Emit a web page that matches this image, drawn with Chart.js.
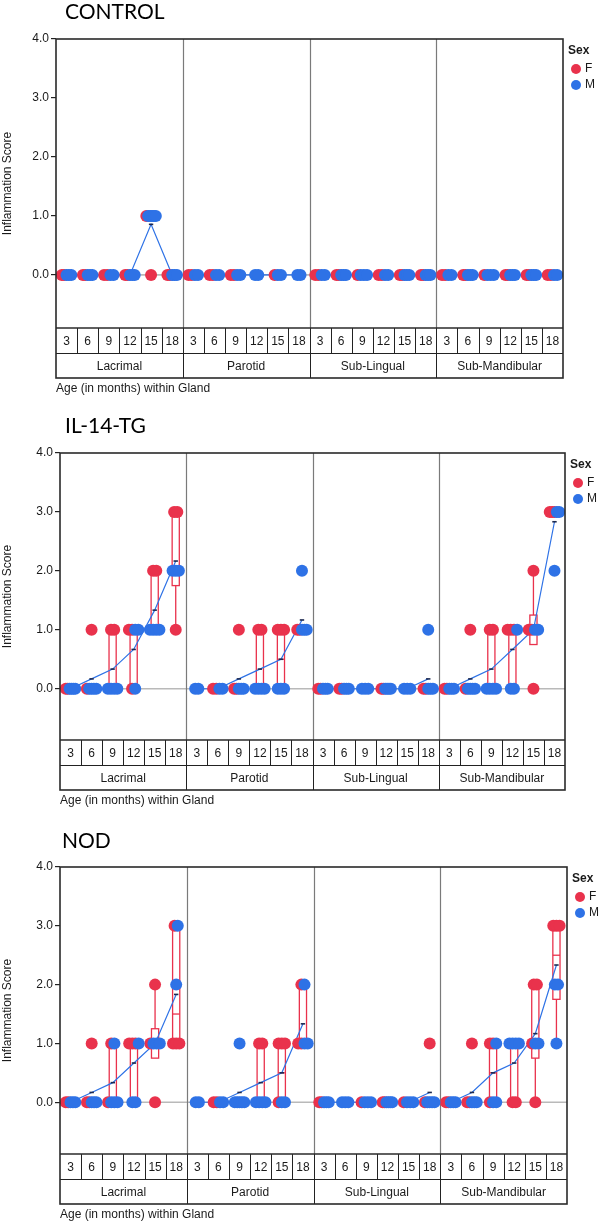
<!DOCTYPE html>
<html><head><meta charset="utf-8">
<script src="https://cdn.jsdelivr.net/npm/chart.js@4"></script>
<style>
html,body{margin:0;padding:0;background:#fff}
body{width:600px;height:1222px;position:relative;overflow:hidden}
canvas{position:absolute;left:0}
</style></head><body>
<canvas id="c1" width="600" height="400" style="top:0px"></canvas>
<canvas id="c2" width="600" height="410" style="top:400px"></canvas>
<canvas id="c3" width="600" height="412" style="top:810px"></canvas>
<script>
// ---------- categories / ticks ----------
const glands = ['Lacrimal','Parotid','Sub-Lingual','Sub-Mandibular'];
const ages = ['3','6','9','12','15','18'];
const yTickValues = [0,1,2,3,4];
const sexLabels = ['F','M'];
const panelTitles = ['CONTROL','IL-14-TG','NOD'];

// ---------- inflammation scores per cell (gland x age), by sex ----------
const controlF = [
 [0,0],[0,0],[0,0],[0,0],[1,0],[0,0],
 [0,0],[0,0],[0,0],[],[0],[],
 [0,0],[0,0],[0],[0,0],[0,0],[0,0],
 [0,0],[0,0],[0],[0,0],[0,0],[0,0]
];
const controlM = [
 [0,0,0],[0,0,0],[0,0],[0,0,0],[1,1,1,1,1],[0,0,0],
 [0,0],[0,0],[0,0],[0,0],[0,0],[0,0],
 [0,0],[0,0,0],[0,0,0],[0,0],[0,0,0],[0,0,0],
 [0,0],[0,0,0],[0,0,0],[0,0,0],[0,0,0],[0,0]
];
const il14F = [
 [0,0],[1,0],[1,1],[1,1,0],[2,2],[3,3,1],
 [],[0,0],[1,0,0],[1,1],[1,1,1],[1,1],
 [0,0],[0,0],[],[0,0],[],[0,0],
 [0,0],[1,0],[1,1],[1,1,1],[2,1,1,0],[3,3,3]
];
const il14M = [
 [0,0,0,0],[0,0,0,0],[0,0,0,0],[1,1,0],[1,1,1,1],[2,2,2],
 [0,0],[0,0],[0,0,0],[0,0,0,0],[0,0,0],[2,1,1,1],
 [0,0,0],[0,0,0],[0,0,0],[0,0,0,0],[0,0,0],[1,0,0,0],
 [0,0,0],[0,0,0,0],[0,0,0,0],[1,0,0],[1,1],[3,3,2]
];
const nodF = [
 [0,0],[1,0,0],[1,0],[1,1,1],[2,1,0],[3,1,1,1],
 [],[0,0],[],[1,1],[1,1,1,0],[2,1,1],
 [0,0],[],[0],[0,0],[0],[1,0],
 [0,0],[1,0,0],[1,1,0],[0,0],[2,2,1,0],[3,3,3]
];
const nodM = [
 [0,0,0],[0,0,0],[1,0,0,0],[1,0,0],[1,1,1],[3,2],
 [0,0],[0,0],[1,0,0,0,0,0],[0,0,0,0],[0,0],[2,1,1],
 [0,0,0],[0,0,0],[0,0,0],[0,0,0,0],[0,0,0],[0,0,0,0],
 [0,0,0],[0,0,0],[1,0,0],[1,1,1,1],[1,1],[2,2,1]
];

// ---------- styles ----------
const RED = 'rgb(233,50,76)';
const BLUE = 'rgb(46,114,230)';
const FONT = '"Liberation Sans", Arial, sans-serif';
const TEXT = '#1a1a1a';

const panels = [
  {id:'c1', title:panelTitles[0], F:controlF, M:controlM, H:400, left:56, right:563, top:39, bottom:328, yMin:-0.9, titleX:65, titleY:19},
  {id:'c2', title:panelTitles[1], F:il14F, M:il14M, H:410, left:60, right:565, top:53, bottom:340, yMin:-0.87, titleX:65, titleY:33},
  {id:'c3', title:panelTitles[2], F:nodF, M:nodM, H:412, left:60, right:567, top:57, bottom:344, yMin:-0.88, titleX:62, titleY:38}
];

function quant(s, p){ // weighted average (SPSS)
  const n = s.length, pos = p*(n+1);
  if (pos <= 1) return s[0];
  if (pos >= n) return s[n-1];
  const k = Math.floor(pos), f = pos - k;
  return s[k-1] + f*(s[k]-s[k-1]);
}
function cellStats(vals){
  const s = vals.slice().sort((a,b)=>a-b);
  const q1 = quant(s,0.25), q3 = quant(s,0.75), med = quant(s,0.5);
  const iqr = q3-q1;
  const inside = s.filter(v => v > q1-1.5*iqr && v <= q3+1.5*iqr);
  return {q1, q3, med, lo: Math.min(...inside), hi: Math.max(...inside),
          mean: s.reduce((a,b)=>a+b,0)/s.length};
}
function layoutPoints(Fc, Mc){
  const F = [], M = [];
  for (let i=0;i<Fc.length;i++){
    const vals = [...new Set([...Fc[i], ...Mc[i]])];
    vals.forEach(v=>{
      const nf = Fc[i].filter(a=>a===v).length, nm = Mc[i].filter(a=>a===v).length;
      const k = nf+nm, span = Math.min(0.45, 0.15*(k-1));
      for (let j=0;j<k;j++){
        const off = k>1 ? -span/2 + span*j/(k-1) : 0;
        (j<nf?F:M).push({x:i+0.5+off, y:v});
      }
    });
  }
  return {F, M};
}

const decor = {
  id:'decor',
  beforeDatasetsDraw(chart, args, o){
    const {ctx, chartArea:a, scales:{x,y}} = chart;
    ctx.save();
    // zero reference line
    const y0 = y.getPixelForValue(0);
    ctx.strokeStyle = '#b9b9b9'; ctx.lineWidth = 1.6;
    ctx.beginPath(); ctx.moveTo(a.left, y0); ctx.lineTo(a.right, y0); ctx.stroke();
    // gland dividers
    ctx.strokeStyle = '#7a7a7a'; ctx.lineWidth = 1.2;
    for (let g=1; g<glands.length; g++){
      const xp = Math.round(x.getPixelForValue(g*ages.length))+0.5;
      ctx.beginPath(); ctx.moveTo(xp, a.top); ctx.lineTo(xp, a.bottom); ctx.stroke();
    }
    // boxplots
    const cw = x.getPixelForValue(1)-x.getPixelForValue(0), hw = cw*0.17;
    ctx.strokeStyle = RED; ctx.lineWidth = 1.3;
    o.stats.forEach((st,i)=>{
      if (st.hi === st.lo) return;
      const xc = x.getPixelForValue(i+0.5);
      const Y = v => y.getPixelForValue(v);
      if (st.q3 > st.q1){
        ctx.strokeRect(xc-hw, Y(st.q3), 2*hw, Y(st.q1)-Y(st.q3));
        ctx.beginPath(); ctx.moveTo(xc-hw, Y(st.med)); ctx.lineTo(xc+hw, Y(st.med)); ctx.stroke();
      }
      ctx.beginPath();
      if (st.hi > st.q3){ ctx.moveTo(xc, Y(st.q3)); ctx.lineTo(xc, Y(st.hi)); ctx.moveTo(xc-hw, Y(st.hi)); ctx.lineTo(xc+hw, Y(st.hi)); }
      if (st.lo < st.q1){ ctx.moveTo(xc, Y(st.q1)); ctx.lineTo(xc, Y(st.lo)); ctx.moveTo(xc-hw, Y(st.lo)); ctx.lineTo(xc+hw, Y(st.lo)); }
      ctx.stroke();
    });
    ctx.restore();
  },
  afterDraw(chart, args, o){
    const {ctx, chartArea:a, scales:{x}} = chart;
    const rowH = 25, tb = a.bottom + 2*rowH;
    ctx.save();
    // table lines
    ctx.strokeStyle = '#222'; ctx.lineWidth = 1;
    ctx.beginPath();
    ctx.moveTo(a.left, a.bottom+rowH+0.5); ctx.lineTo(a.right, a.bottom+rowH+0.5);
    for (let c=1; c<glands.length*ages.length; c++){
      const xp = Math.round(x.getPixelForValue(c))+0.5;
      ctx.moveTo(xp, a.bottom); ctx.lineTo(xp, c%ages.length===0 ? tb : a.bottom+rowH);
    }
    ctx.stroke();
    // frame
    ctx.strokeStyle = '#2a2a2a'; ctx.lineWidth = 1.6;
    ctx.strokeRect(a.left, a.top, a.right-a.left, tb-a.top);
    ctx.beginPath(); ctx.moveTo(a.left, a.bottom); ctx.lineTo(a.right, a.bottom); ctx.stroke();
    // labels
    ctx.fillStyle = TEXT; ctx.font = '12px '+FONT; ctx.textAlign='center'; ctx.textBaseline='middle';
    glands.forEach((g,gi)=>{
      ages.forEach((ag,ai)=>{
        const c = gi*ages.length+ai;
        ctx.fillText(ag, x.getPixelForValue(c+0.5), a.bottom+rowH/2+1);
      });
      ctx.fillText(g, x.getPixelForValue(gi*ages.length+ages.length/2), a.bottom+rowH*1.5+1);
    });
    ctx.textAlign='left';
    ctx.fillText('Age (in months) within Gland', a.left, tb+11);
    // panel title
    ctx.font = '21px Lato, "Open Sans", sans-serif'; ctx.textBaseline='alphabetic';
    ctx.fillStyle = '#000';
    ctx.fillText(o.title, o.titleX, o.titleY);
    // legend
    ctx.font = 'bold 12px '+FONT; ctx.textBaseline='middle'; ctx.fillStyle = TEXT;
    ctx.fillText('Sex', a.right+5, a.top+12);
    ctx.font = '12px '+FONT;
    [[RED, sexLabels[0], 30],[BLUE, sexLabels[1], 46]].forEach(([col,lab,dy])=>{
      ctx.fillStyle = col; ctx.beginPath(); ctx.arc(a.right+13, a.top+dy, 5, 0, Math.PI*2); ctx.fill();
      ctx.fillStyle = TEXT; ctx.fillText(lab, a.right+22, a.top+dy);
    });
    ctx.restore();
  }
};

panels.forEach(p=>{
  const pts = layoutPoints(p.F, p.M);
  const stats = p.F.map((f,i)=>cellStats(f.concat(p.M[i])));
  const meanSets = glands.map((g,gi)=>({
    type:'line', label:'mean '+g, order:3,
    data: ages.map((ag,ai)=>({x: gi*ages.length+ai+0.5, y: stats[gi*ages.length+ai].mean})),
    borderColor: BLUE, borderWidth: 1.2, fill:false, tension:0,
    pointStyle:'line', pointRadius:2.2, pointBorderColor:'#1c2950', pointBorderWidth:1.6
  }));
  new Chart(document.getElementById(p.id), {
    type:'scatter',
    data:{datasets:[
      ...meanSets,
      {label:sexLabels[1], data:pts.M, backgroundColor:BLUE, borderWidth:0, pointRadius:6, order:1},
      {label:sexLabels[0], data:pts.F, backgroundColor:RED, borderWidth:0, pointRadius:6, order:2}
    ]},
    options:{
      responsive:false, animation:false, events:[],
      layout:{padding:{left:0, right:600-p.right, top:p.top, bottom:p.H-p.bottom}},
      scales:{
        x:{type:'linear', min:0, max:glands.length*ages.length, display:false},
        y:{type:'linear', min:p.yMin, max:4,
           afterFit(s){ s.width = p.left; },
           afterBuildTicks(s){ s.ticks = yTickValues.map(v=>({value:v})); },
           ticks:{callback:v=>Number(v).toFixed(1), font:{family:FONT, size:12}, color:TEXT, padding:2},
           grid:{drawOnChartArea:false, drawTicks:true, tickLength:5, color:'#222', lineWidth:1.2},
           border:{display:false},
           title:{display:true, text:'Inflammation Score', padding:0, font:{family:FONT, size:12}, color:TEXT}}
      },
      plugins:{legend:{display:false}, tooltip:{enabled:false},
        decor:{stats, title:p.title, titleX:p.titleX, titleY:p.titleY}}
    },
    plugins:[decor]
  });
});
</script>
</body></html>
